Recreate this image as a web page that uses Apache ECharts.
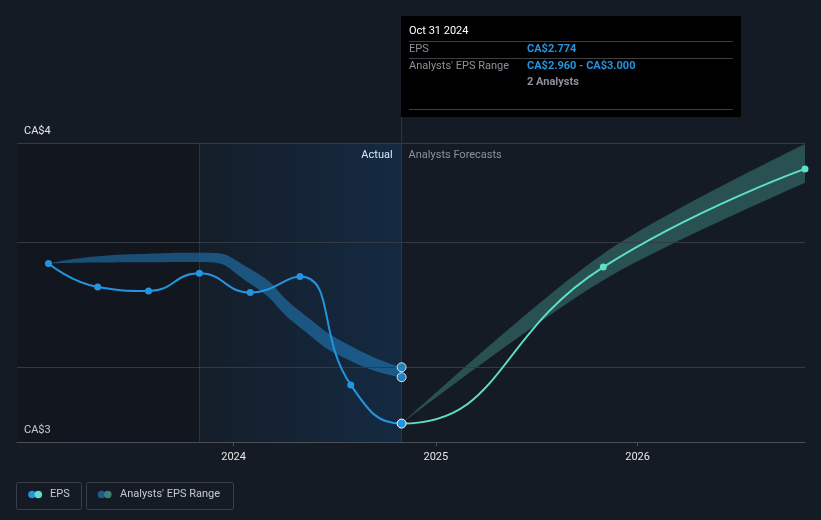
<!DOCTYPE html>
<html>
<head>
<meta charset="utf-8">
<script src="https://cdn.jsdelivr.net/npm/echarts@6/dist/echarts.min.js"></script>
<style>
html, body { margin: 0; padding: 0; background: #151b24; }
#main { width: 821px; height: 520px; }
</style>
</head>
<body>
<div id="main"></div>
<script>
// data
var actualDates = ["2023-01-31", "2023-04-30", "2023-07-31", "2023-10-31", "2024-01-31", "2024-04-30", "2024-07-31", "2024-10-31"];
var actualEps = [3.416, 3.322, 3.306, 3.377, 3.300, 3.364, 2.929, 2.774];
var pastRangeLow = [3.416, 3.420, 3.421, 3.422, 3.335, 3.160, 3.025, 2.960];
var pastRangeHigh = [3.416, 3.445, 3.456, 3.460, 3.395, 3.225, 3.085, 3.000];

var forecastDates = ["2024-10-31", "2025-10-31", "2026-10-31"];
var forecastEps = [2.774, 3.402, 3.796];
var forecastLow = [2.774, 3.349, 3.740];
var forecastHigh = [2.774, 3.456, 3.896];
var analystCount = 2;

var yearTicks = ["2024-01-01", "2025-01-01", "2026-01-01"];
var yLabelValues = [2.7, 3.9];
var gridValues = [3.0, 3.5, 3.9];

var xMin = "2022-12-05";
var xMax = "2026-10-31";
var actualStart = "2023-10-31";
var lastActual = "2024-10-31";

void (function() {
  var FONT = "Roboto, 'Noto Sans', sans-serif";
  var BLUE = "#2394df";
  var TEAL = "#5ce0c6";
  var chart = echarts.init(document.getElementById("main"));

  function t(s) {
    var p = s.split("-");
    return new Date(+p[0], +p[1] - 1, +p[2]).getTime();
  }
  function pairs(dates, vals) {
    return dates.map(function(d, i) { return [t(d), vals[i]]; });
  }
  function diffs(dates, lo, hi) {
    return dates.map(function(d, i) { return [t(d), +(hi[i] - lo[i]).toFixed(3)]; });
  }

  var last = actualEps.length - 1;
  // one continuous EPS line: actual points then the forecast ones
  var epsData = pairs(actualDates, actualEps).map(function(p, i) {
    if (i === last) {
      return { value: p, symbolSize: 9, itemStyle: { color: BLUE, borderColor: "#fff", borderWidth: 1 } };
    }
    return { value: p, itemStyle: { color: BLUE } };
  }).concat(pairs(forecastDates, forecastEps).slice(1).map(function(p) {
    return { value: p, itemStyle: { color: TEAL } };
  }));
  // colour switches from blue to teal at the last actual date
  var firstT = t(actualDates[0]);
  var lastT = t(forecastDates[forecastDates.length - 1]);
  var split = (t(lastActual) - firstT) / (lastT - firstT);
  var epsLineColor = new echarts.graphic.LinearGradient(0, 0, 1, 0, [
    { offset: 0, color: BLUE },
    { offset: split, color: BLUE },
    { offset: split, color: TEAL },
    { offset: 1, color: TEAL }
  ]);

  var option = {
    backgroundColor: "#151b24",
    animation: false,
    grid: { left: 17, right: 16, top: 143, bottom: 78 },
    xAxis: [
      {
        // data axis
        type: "time",
        min: t(xMin),
        max: t(xMax),
        axisLine: { lineStyle: { color: "#4a4f58" } },
        axisTick: { show: false },
        axisLabel: { show: false },
        splitLine: { show: false }
      },
      {
        // same scale, only carries the year ticks and labels
        type: "value",
        position: "bottom",
        min: t(xMin),
        max: t(xMax),
        axisLine: { show: false },
        axisTick: { show: true, length: 4, lineStyle: { color: "#4a4f58" }, customValues: yearTicks.map(t) },
        axisLabel: {
          customValues: yearTicks.map(t),
          formatter: function(v) { return String(new Date(v).getFullYear()); },
          color: "#e6e6e6",
          fontSize: 11,
          fontFamily: FONT,
          margin: 10
        },
        splitLine: { show: false }
      }
    ],
    yAxis: {
      type: "value",
      min: yLabelValues[0],
      max: yLabelValues[1],
      axisLine: { show: false },
      axisTick: { show: false },
      splitLine: { show: false },
      axisLabel: {
        inside: true,
        customValues: yLabelValues,
        formatter: function(v) { return "CA$" + Math.round(v); },
        verticalAlign: "bottom",
        padding: [0, 0, 6, 0],
        margin: 7,
        color: "#e6e6e6",
        fontSize: 11,
        fontFamily: FONT
      }
    },
    series: [
      {
        name: "pastLow",
        type: "line",
        stack: "past",
        data: pairs(actualDates, pastRangeLow),
        smooth: 0.6,
        symbol: "none",
        silent: true,
        lineStyle: { opacity: 0 },
        z: 2,
        markArea: {
          silent: true,
          data: [
            [{ xAxis: t(xMin), itemStyle: { color: "rgba(0,0,0,0.13)" } }, { xAxis: t(actualStart) }],
            [{
              xAxis: t(actualStart),
              itemStyle: {
                color: new echarts.graphic.LinearGradient(0, 0, 1, 0, [
                  { offset: 0, color: "rgba(15,110,200,0.03)" },
                  { offset: 1, color: "rgba(15,110,200,0.18)" }
                ])
              }
            }, { xAxis: t(lastActual) }]
          ]
        },
        markLine: {
          silent: true,
          symbol: "none",
          label: { show: false },
          lineStyle: { color: "#343a44", width: 1, type: "solid" },
          data: gridValues.map(function(v) { return { yAxis: v }; }).concat([
            { xAxis: t(actualStart), lineStyle: { color: "rgba(50,90,130,0.4)", type: "solid" } },
            { xAxis: t(lastActual), lineStyle: { color: "#1f3b57", type: "solid" } }
          ])
        }
      },
      {
        name: "Analysts' EPS Range",
        type: "line",
        stack: "past",
        data: diffs(actualDates, pastRangeLow, pastRangeHigh),
        smooth: 0.6,
        symbol: "none",
        silent: true,
        lineStyle: { opacity: 0 },
        areaStyle: { color: "rgba(35,148,223,0.45)", opacity: 1 },
        z: 2
      },
      {
        name: "forecastLow",
        type: "line",
        stack: "future",
        data: pairs(forecastDates, forecastLow),
        smooth: 0.3,
        symbol: "none",
        silent: true,
        lineStyle: { opacity: 0 },
        z: 2
      },
      {
        name: "forecastRange",
        type: "line",
        stack: "future",
        data: diffs(forecastDates, forecastLow, forecastHigh),
        smooth: 0.3,
        symbol: "none",
        silent: true,
        lineStyle: { opacity: 0 },
        areaStyle: { color: "rgba(92,224,198,0.28)", opacity: 1 },
        z: 2
      },
      {
        name: "EPS",
        type: "line",
        data: epsData,
        smooth: true,
        symbol: "circle",
        symbolSize: 7,
        lineStyle: { width: 2, color: epsLineColor },
        z: 5
      },
      {
        name: "range ends",
        type: "scatter",
        data: [[t(lastActual), pastRangeLow[last]], [t(lastActual), pastRangeHigh[last]]],
        symbolSize: 9,
        itemStyle: { color: BLUE, borderColor: "#fff", borderWidth: 1 },
        z: 6
      }
    ]
  };

  chart.setOption(option);

  // static tooltip, labels and legend placed from the axis scale
  var xNow = chart.convertToPixel({ xAxisIndex: 0 }, t(lastActual));
  var bx = Math.round(xNow) - 1;
  var grey = "#8d929a";
  var months = ["Jan", "Feb", "Mar", "Apr", "May", "Jun", "Jul", "Aug", "Sep", "Oct", "Nov", "Dec"];
  var d = new Date(t(lastActual));
  var title = months[d.getMonth()] + " " + d.getDate() + " " + d.getFullYear();

  function txt(x, y, s, color, opts) {
    opts = opts || {};
    return {
      type: "text",
      x: x,
      y: y,
      silent: true,
      style: {
        text: s,
        fill: color,
        fontSize: opts.size || 11,
        fontFamily: FONT,
        fontWeight: opts.weight || "normal",
        align: opts.align || "left",
        verticalAlign: "middle"
      }
    };
  }
  function hline(x1, x2, y, color) {
    return { type: "line", silent: true, shape: { x1: x1, y1: y, x2: x2, y2: y }, style: { stroke: color, lineWidth: 1 } };
  }

  var graphics = [
    { type: "line", silent: true, shape: { x1: xNow, y1: 117, x2: xNow, y2: 143 }, style: { stroke: "#1f3b57", lineWidth: 1 } },
    { type: "rect", silent: true, shape: { x: bx, y: 16, width: 340, height: 101 }, style: { fill: "#000" } },
    txt(bx + 8, 31, title, "#ffffff"),
    hline(bx + 8, bx + 332, 41.5, "#3d3f44"),
    txt(bx + 8, 49.5, "EPS", grey),
    txt(bx + 126, 49.5, "CA$" + actualEps[last].toFixed(3), BLUE, { weight: "bold" }),
    hline(bx + 8, bx + 332, 58.5, "#3d3f44"),
    txt(bx + 8, 66.5, "Analysts' EPS Range", grey),
    txt(bx + 126, 66.5, "CA$" + pastRangeLow[last].toFixed(3) + " - CA$" + pastRangeHigh[last].toFixed(3), BLUE, { weight: "bold" }),
    txt(bx + 126, 82.5, analystCount + " Analysts", grey, { weight: "bold" }),
    hline(bx + 8, bx + 332, 109.5, "#3d3f44"),
    txt(xNow - 9, 155, "Actual", "#ffffff", { align: "right" }),
    txt(xNow + 7, 155, "Analysts Forecasts", grey),

    // legend
    { type: "rect", silent: true, shape: { x: 16.5, y: 482.5, width: 65, height: 27, r: 2 }, style: { fill: "none", stroke: "#3a3f48", lineWidth: 1 } },
    { type: "circle", silent: true, shape: { cx: 32, cy: 494.5, r: 3.8 }, style: { fill: BLUE } },
    { type: "circle", silent: true, shape: { cx: 38.3, cy: 494.5, r: 3.8 }, style: { fill: TEAL } },
    txt(50, 494.5, "EPS", "#c5c9cf"),
    { type: "rect", silent: true, shape: { x: 86.5, y: 482.5, width: 147, height: 27, r: 2 }, style: { fill: "none", stroke: "#3a3f48", lineWidth: 1 } },
    { type: "circle", silent: true, shape: { cx: 101.5, cy: 494.5, r: 3.8 }, style: { fill: "#1d5b8c" } },
    { type: "circle", silent: true, shape: { cx: 107.8, cy: 494.5, r: 3.8 }, style: { fill: "#3a8078" } },
    txt(120, 494.5, "Analysts' EPS Range", "#c5c9cf")
  ];

  chart.setOption({ graphic: graphics });
})();
</script>
</body>
</html>
